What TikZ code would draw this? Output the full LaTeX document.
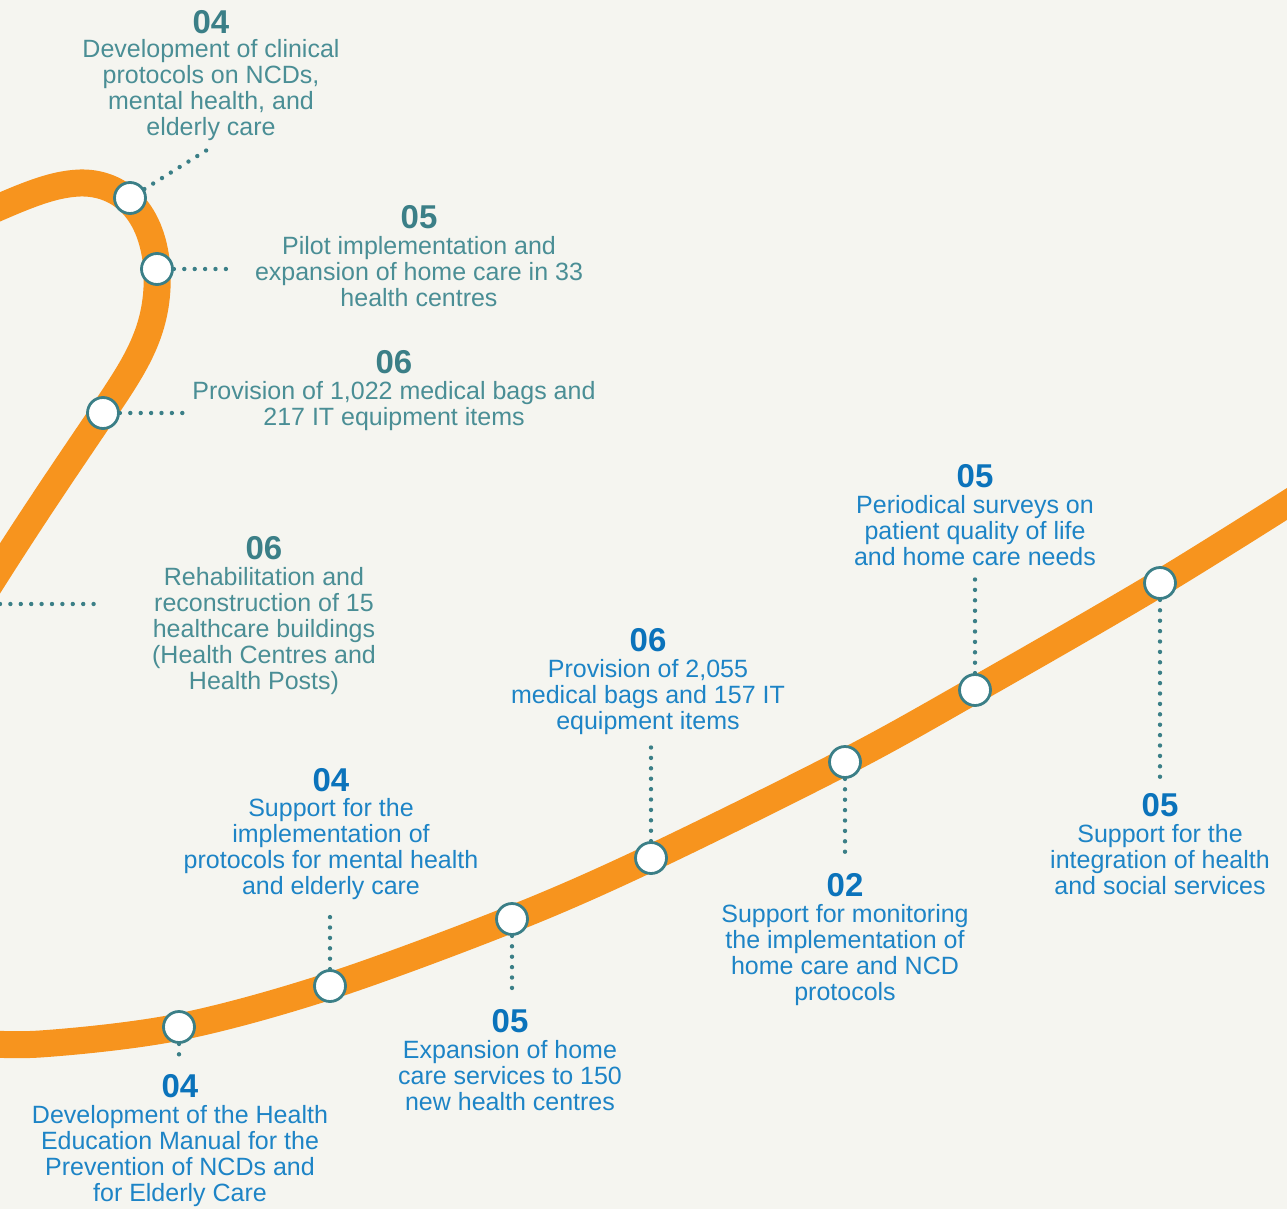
\documentclass[tikz,border=0pt]{standalone}
\usepackage{fontspec}
\setmainfont{Liberation Sans}
\definecolor{bgC}{HTML}{F5F5F0}
\definecolor{orangeC}{HTML}{F7941E}
\definecolor{tealC}{HTML}{3B7F87}
\definecolor{tealT}{HTML}{4A8E95}
\definecolor{blueN}{HTML}{0B73BB}
\definecolor{blueT}{HTML}{1D84C6}
\begin{document}
\begin{tikzpicture}[x=1pt,y=-1pt,
  band/.style={line width=27pt, draw=orangeC, line cap=butt},
  stop/.style={circle, draw=tealC, line width=2.8pt, fill=white, minimum size=31pt, inner sep=0pt},
  dotline/.style={draw=tealC, line width=4.4pt, line cap=round, dash pattern=on 0pt off 10.4pt},
  num/.style={font=\fontsize{33}{33}\selectfont\bfseries, inner sep=0pt},
  txt/.style={font=\fontsize{25}{26}\selectfont, align=center, inner sep=0pt, anchor=base},
  tnum/.style={num, text=tealC},
  ttxt/.style={txt, text=tealT},
  bnum/.style={num, text=blueN},
  btxt/.style={txt, text=blueT},
]
\fill[bgC] (0,0) rectangle (1287,1209);
\useasboundingbox (0,0) rectangle (1287,1209);
\begin{scope}
\clip (0,0) rectangle (1287,1209);
\draw[band] (-30,220) .. controls (20,198) and (50,184) .. (80,183)
  .. controls (115,182) and (152,205) .. (157,269)
  .. controls (160,330) and (135,365) .. (103,413)
  .. controls (70,462) and (30,520) .. (-20,600);
\draw[band] plot[smooth, tension=0.55] coordinates {(-40,1042) (40,1044) (179,1027) (330,986) (512,919) (651,858) (845,762) (975,690) (1160,583) (1320,483)};
\end{scope}

% stops
\node[stop] (k1) at (130,198) {};
\node[stop] (k2) at (157,269) {};
\node[stop] (k3) at (103,413) {};
\node[stop] (k5) at (179,1027) {};
\node[stop] (k6) at (330,986) {};
\node[stop] (k7) at (512,919) {};
\node[stop] (k8) at (651,858) {};
\node[stop] (k9) at (845,762) {};
\node[stop] (k10) at (975,690) {};
\node[stop] (k11) at (1160,583) {};

% free ends
\coordinate (e1) at (207,150);
\coordinate (e2) at (234,269);
\coordinate (e3) at (183,413);
\coordinate (e4a) at (0,604);
\coordinate (e4b) at (102,604);
\coordinate (e5) at (179,1061);
\coordinate (e6) at (330,911);
\coordinate (e7) at (512,996);
\coordinate (e8) at (651,743);
\coordinate (e9) at (845,859);
\coordinate (e10) at (975,575);
\coordinate (e11) at (1160,779);

\draw[dotline] (k1) -- (e1);
\draw[dotline] (k2) -- (e2);
\draw[dotline] (k3) -- (e3);
\draw[dotline] (e4a) -- (e4b);
\draw[dotline] (k5) -- (e5);
\draw[dotline] (k6) -- (e6);
\draw[dotline] (k7) -- (e7);
\draw[dotline] (k8) -- (e8);
\draw[dotline] (k9) -- (e9);
\draw[dotline] (k10) -- (e10);
\draw[dotline] (k11) -- (e11);

% teal labels (text anchored at the baseline of its last line)
\node[tnum] (n1) at (211,22) {04};
\node[ttxt] (t1) at (211,136) {Development of clinical\\protocols on NCDs,\\mental health, and\\elderly care};
\node[tnum] (n2) at (419,217) {05};
\node[ttxt] (t2) at (419,306) {Pilot implementation and\\expansion of home care in 33\\health centres};
\node[tnum] (n3) at (394,362) {06};
\node[ttxt] (t3) at (394,425) {Provision of 1,022 medical bags and\\217 IT equipment items};
\node[tnum] (n4) at (264,548) {06};
\node[ttxt] (t4) at (264,689) {Rehabilitation and\\reconstruction of 15\\healthcare buildings\\(Health Centres and\\Health Posts)};

% blue labels
\node[bnum] (n5) at (180,1086) {04};
\node[btxt] (t5) at (180,1201) {Development of the Health\\Education Manual for the\\Prevention of NCDs and\\for Elderly Care};
\node[bnum] (n6) at (331,780) {04};
\node[btxt] (t6) at (331,894) {Support for the\\implementation of\\protocols for mental health\\and elderly care};
\node[bnum] (n7) at (510,1021) {05};
\node[btxt] (t7) at (510,1110) {Expansion of home\\care services to 150\\new health centres};
\node[bnum] (n8) at (648,640) {06};
\node[btxt] (t8) at (648,729) {Provision of 2,055\\medical bags and 157 IT\\equipment items};
\node[bnum] (n9) at (845,885) {02};
\node[btxt] (t9) at (845,1000) {Support for monitoring\\the implementation of\\home care and NCD\\protocols};
\node[bnum] (n10) at (975,476) {05};
\node[btxt] (t10) at (975,565) {Periodical surveys on\\patient quality of life\\and home care needs};
\node[bnum] (n11) at (1160,805) {05};
\node[btxt] (t11) at (1160,894) {Support for the\\integration of health\\and social services};
\end{tikzpicture}
\end{document}
